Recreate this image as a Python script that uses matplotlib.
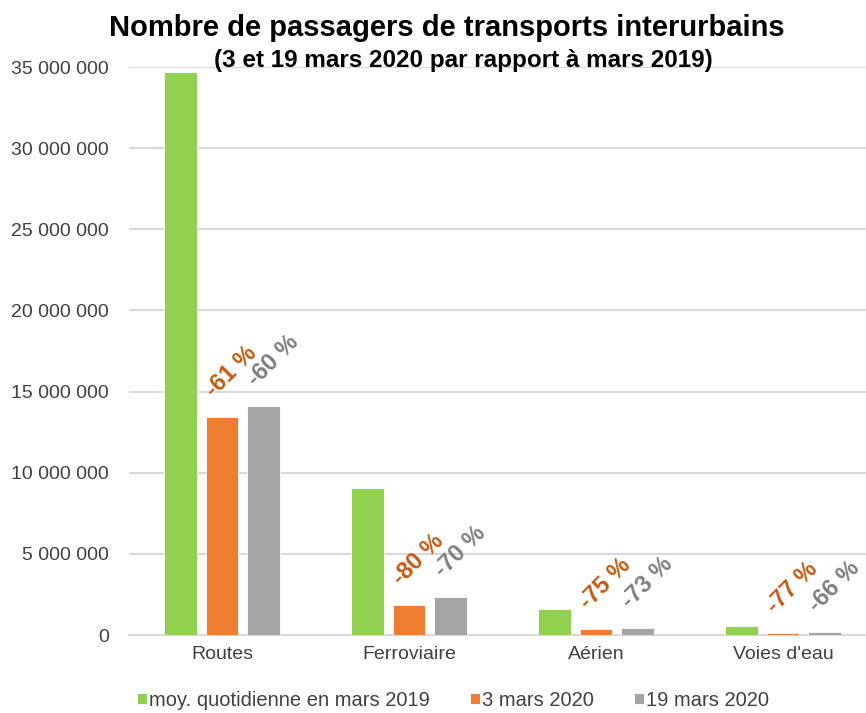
import matplotlib.pyplot as plt
import numpy as np

plt.rcParams['font.family'] = ['Liberation Sans', 'DejaVu Sans']

categories = ["Routes", "Ferroviaire", "Aérien", "Voies d'eau"]
series_names = ["moy. quotidienne en mars 2019", "3 mars 2020", "19 mars 2020"]
mars_2019 = [34700000, 9060000, 1600000, 570000]
mars_03_2020 = [13430000, 1850000, 400000, 130000]
mars_19_2020 = [14100000, 2360000, 430000, 190000]
pct_03 = ["-61 %", "-80 %", "-75 %", "-77 %"]
pct_19 = ["-60 %", "-70 %", "-73 %", "-66 %"]

colors = ["#92D050", "#ED7D31", "#A5A5A5"]
label_colors = ["#C55A11", "#7F7F7F"]

fig = plt.figure(figsize=(8.66, 7.13), dpi=100)
ax = fig.add_axes([128.5 / 866, 78 / 713, 748 / 866, 568 / 713])

x = np.arange(len(categories))
w = 0.172
off = 0.222
data = [mars_2019, mars_03_2020, mars_19_2020]
for i, vals in enumerate(data):
    ax.bar(x + (i - 1) * off, vals, w, color=colors[i], edgecolor='white',
           linewidth=0.6, label=series_names[i], zorder=3)

# etiquettes en pourcentage
for j in range(len(categories)):
    for k, (vals, txt) in enumerate([(mars_03_2020, pct_03), (mars_19_2020, pct_19)]):
        ax.annotate(txt[j], (x[j] + k * off, vals[j]), xytext=(-3, 11),
                    textcoords='offset points', rotation=45, rotation_mode='anchor',
                    ha='left', va='bottom', fontsize=17, fontweight='bold',
                    color=label_colors[k], zorder=4)

ax.set_xlim(-0.5, 3.5)
ax.set_ylim(0, 35000000)
ax.set_yticks(np.arange(0, 35000001, 5000000))
ax.set_yticklabels([f"{v:,}".replace(",", " ") for v in range(0, 35000001, 5000000)],
                   fontsize=14, color='#404040')
ax.set_xticks(x)
ax.set_xticklabels(categories, fontsize=14, color='#404040')
ax.tick_params(axis='both', length=0, pad=8)
ax.tick_params(axis='y', pad=14)
ax.grid(axis='y', color='#D9D9D9', linewidth=1.5, zorder=0)
for s in ['top', 'right', 'left']:
    ax.spines[s].set_visible(False)
ax.spines['bottom'].set_color('#D9D9D9')
ax.spines['bottom'].set_linewidth(1.5)

fig.text(447 / 866, 1 - 28 / 713, "Nombre de passagers de transports interurbains",
         ha='center', va='center', fontsize=21, fontweight='bold')
fig.text(463 / 866, 1 - 61 / 713, "(3 et 19 mars 2020 par rapport à mars 2019)",
         ha='center', va='center', fontsize=17.5, fontweight='bold')

fig.legend(loc='center', bbox_to_anchor=(453 / 866, 1 - 700 / 713), ncol=3,
           frameon=False, fontsize=14.5, handlelength=0.5, handleheight=0.5,
           handletextpad=0.1, columnspacing=2.0, labelcolor='#404040')

fig.savefig("out.png", dpi=100)
